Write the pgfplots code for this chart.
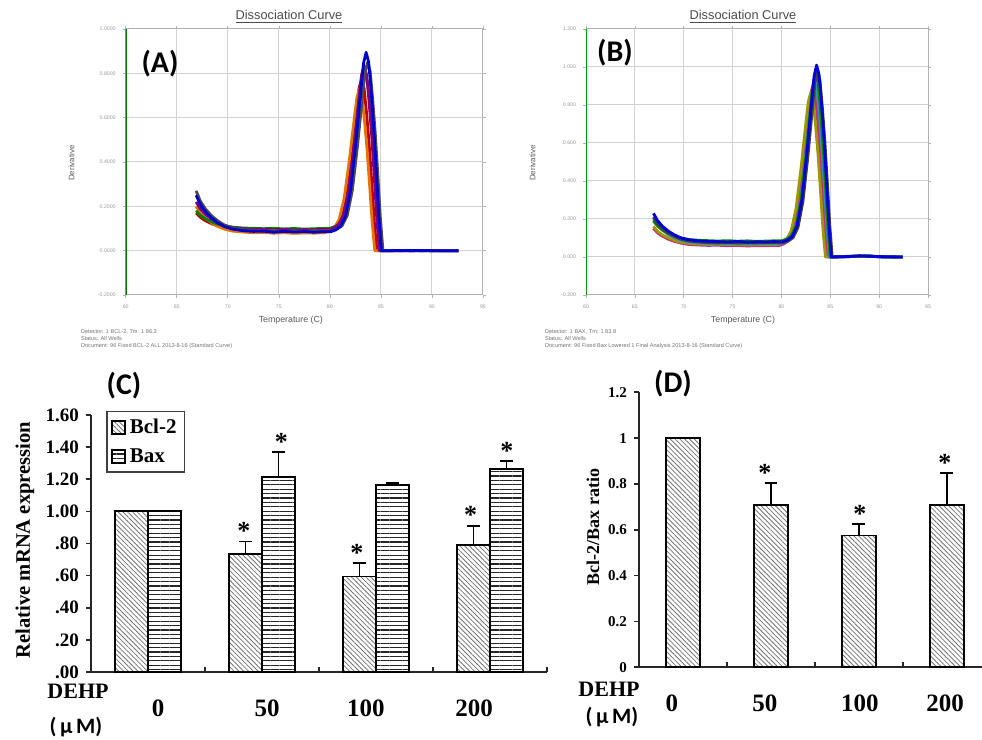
\documentclass[border=0pt]{standalone}
\usepackage{pgfplots}
\pgfplotsset{compat=1.18}
\usepackage{fontspec}
\setmainfont{Liberation Serif}
\newfontfamily\calfont{Carlito}
\newfontfamily\arial{Liberation Sans}
\usetikzlibrary{patterns.meta}
\pgfplotsset{
  dissoc/.style={scale only axis, anchor=south west, xmin=60, xmax=95,
    xtick={60,65,70,75,80,85,90,95}, grid=major,
    grid style={gray!35, line width=0.5pt},
    axis line style={gray!60, line width=0.5pt},
    tick style={gray!60, line width=0.3pt}, tick align=outside, major tick length=1.5pt,
    tick label style={font=\arial\fontsize{2.6}{3}\selectfont, text=gray!80},
    /pgf/number format/assume math mode=true,
    every axis plot/.append style={line width=1.4pt, line join=round, mark=none},
    clip=true},
  barax/.style={scale only axis, anchor=south west, axis lines*=left,
    axis line style={line width=0.9pt, black!85}, xmin=-0.5, ymin=0,
    tick style={black!85, line width=0.8pt}, tick align=outside, major tick length=2.5pt,
    xtick style={yshift=2.5pt},
    /pgf/number format/assume math mode=true,
    xticklabel style={font=\bfseries\fontsize{12.5}{13}\selectfont, anchor=center, yshift=-18pt},
    extra x tick style={major tick length=0pt},
    clip=false},
  sqlegend/.style={legend image code/.code={\draw[##1] (0pt,-3.3pt) rectangle (6.6pt,3.3pt);}},
  hatchD/.style={draw=black, line width=0.9pt, pattern={Lines[angle=-45,distance=1.7pt,line width=0.4pt]}, pattern color=black!55},
  hatchH/.style={draw=black, line width=0.9pt, pattern={Lines[angle=0,distance=2.2pt,line width=0.55pt]}, pattern color=black!85},
  ebars/.style={error bars/y dir=plus, error bars/y explicit,
    error bars/error bar style={black, line width=0.9pt},
    error bars/error mark options={rotate=90, black, mark size=3.2pt, line width=0.9pt}},
}
\tikzset{ast/.style={anchor=base, yshift=1pt, font=\bfseries\fontsize{13}{13}\selectfont}}
\begin{document}
\begin{tikzpicture}
\path[use as bounding box] (0,0) rectangle (491pt,370pt);

% ---------------- Panel A ----------------
\begin{axis}[dissoc, at={(62.85pt,222.5pt)}, width=178.65pt, height=133pt,
  ymin=-0.2, ymax=1.0, ytick={-0.2,0,0.2,0.4,0.6,0.8,1.0},
  yticklabels={-0.2000,0.0000,0.2000,0.4000,0.6000,0.8000,1.0000}]
\addplot[red!75!black] coordinates {(66.9,0.17)(67.3,0.151)(67.8,0.135)(68.4,0.122)(69.0,0.112)(69.7,0.103)(70.5,0.097)(71.5,0.094)(72.5,0.093)(73.5,0.094)(74.5,0.091)(75.5,0.093)(76.5,0.090)(77.5,0.092)(78.5,0.090)(79.2,0.093)(79.6,0.092)(80.1,0.099)(80.6,0.112)(81.1,0.153)(81.6,0.255)(82.1,0.432)(82.6,0.636)(82.85,0.731)(83.1,0.772)(83.35,0.733)(83.6,0.618)(83.85,0.479)(84.1,0.309)(84.35,0.131)(84.6,0)(86,0)(87,0)(88,0)(89,0.001)(90,0)(91,0)(92.6,0)};
\addplot[orange!90!black] coordinates {(66.9,0.20)(67.3,0.17)(67.8,0.146)(68.4,0.126)(69.0,0.11)(69.7,0.097)(70.5,0.088)(71.5,0.084)(72.5,0.081)(73.5,0.082)(74.5,0.079)(75.5,0.081)(76.5,0.078)(77.5,0.080)(78.5,0.079)(79.2,0.081)(79.4,0.080)(79.9,0.087)(80.4,0.100)(80.9,0.139)(81.4,0.236)(81.9,0.405)(82.4,0.60)(82.65,0.691)(82.9,0.73)(83.15,0.694)(83.4,0.584)(83.65,0.453)(83.9,0.292)(84.15,0.124)(84.4,0)(86,0)(87,0)(88,0.001)(89,0)(90,0)(91,0.001)(92.6,0)};
\addplot[green!50!black] coordinates {(66.9,0.18)(67.3,0.16)(67.8,0.144)(68.4,0.130)(69.0,0.12)(69.7,0.111)(70.5,0.106)(71.5,0.102)(72.5,0.101)(73.5,0.099)(74.5,0.101)(75.5,0.098)(76.5,0.100)(77.5,0.097)(78.5,0.099)(79.2,0.100)(79.95,0.100)(80.45,0.107)(80.95,0.121)(81.45,0.163)(81.95,0.268)(82.45,0.45)(82.95,0.66)(83.2,0.758)(83.45,0.80)(83.7,0.76)(83.95,0.64)(84.2,0.496)(84.45,0.32)(84.7,0.136)(84.95,0)(86,0)(87,0.001)(88,0)(89,0)(90,0)(91,0)(92.6,0)};
\addplot[violet] coordinates {(66.9,0.22)(67.3,0.189)(67.8,0.164)(68.4,0.143)(69.0,0.126)(69.7,0.113)(70.5,0.104)(71.5,0.099)(72.5,0.096)(73.5,0.097)(74.5,0.094)(75.5,0.096)(76.5,0.093)(77.5,0.095)(78.5,0.094)(79.2,0.096)(79.85,0.095)(80.35,0.102)(80.85,0.117)(81.35,0.162)(81.85,0.273)(82.35,0.465)(82.85,0.687)(83.1,0.791)(83.35,0.835)(83.6,0.793)(83.85,0.668)(84.1,0.518)(84.35,0.334)(84.6,0.142)(84.85,0)(86,0.001)(87,0)(88,0)(89,0)(90,0.001)(91,0)(92.6,0)};
\addplot[black!70] coordinates {(66.9,0.27)(67.3,0.225)(67.8,0.189)(68.4,0.158)(69.0,0.135)(69.7,0.115)(70.5,0.103)(71.5,0.095)(72.5,0.092)(73.5,0.088)(74.5,0.091)(75.5,0.087)(76.5,0.090)(77.5,0.088)(78.5,0.091)(79.2,0.089)(80.2,0.090)(80.7,0.098)(81.2,0.113)(81.7,0.158)(82.2,0.272)(82.7,0.47)(83.2,0.698)(83.45,0.804)(83.7,0.85)(83.95,0.808)(84.2,0.68)(84.45,0.527)(84.7,0.34)(84.95,0.145)(85.2,0)(86,0)(87,0)(88,0.001)(89,0)(90,0)(91,0)(92.6,0)};
\addplot[blue!80!black] coordinates {(66.9,0.25)(67.3,0.209)(67.8,0.176)(68.4,0.148)(69.0,0.126)(69.7,0.108)(70.5,0.097)(71.5,0.090)(72.5,0.087)(73.5,0.088)(74.5,0.083)(75.5,0.087)(76.5,0.084)(77.5,0.086)(78.5,0.083)(79.2,0.085)(80.05,0.085)(80.55,0.093)(81.05,0.109)(81.55,0.158)(82.05,0.279)(82.55,0.49)(83.05,0.733)(83.3,0.846)(83.55,0.895)(83.8,0.85)(84.05,0.716)(84.3,0.555)(84.55,0.358)(84.8,0.152)(85.05,0)(86,0)(87,0.001)(88,0)(89,0.001)(90,0)(91,0)(92.6,0)};
\draw[green!45!black, line width=1pt] (rel axis cs:0,0) -- (rel axis cs:0,1);
\end{axis}

% ---------------- Panel B ----------------
\begin{axis}[dissoc, at={(293pt,222.5pt)}, width=171pt, height=133pt,
  ymin=-0.2, ymax=1.2, ytick={-0.2,0,0.2,0.4,0.6,0.8,1.0,1.2},
  yticklabels={-0.200,0.000,0.200,0.400,0.600,0.800,1.000,1.200}]
\addplot[magenta!80!black] coordinates {(66.9,0.15)(67.3,0.128)(67.8,0.11)(68.4,0.094)(69.0,0.083)(69.7,0.073)(70.5,0.066)(71.5,0.063)(72.5,0.061)(73.5,0.062)(74.5,0.059)(75.5,0.061)(76.5,0.058)(77.5,0.060)(78.5,0.059)(79.2,0.061)(79.7,0.060)(80.2,0.068)(80.7,0.085)(81.2,0.136)(81.7,0.262)(82.2,0.48)(82.7,0.732)(82.95,0.85)(83.2,0.90)(83.45,0.855)(83.7,0.72)(83.95,0.558)(84.2,0.36)(84.45,0.153)(84.7,0)(86,0)(87,0.002)(88,0.004)(89,0.004)(90,0.001)(91,0)(92.4,0)};
\addplot[olive!85!yellow] coordinates {(66.9,0.16)(67.3,0.136)(67.8,0.117)(68.4,0.101)(69.0,0.089)(69.7,0.078)(70.5,0.072)(71.5,0.068)(72.5,0.066)(73.5,0.067)(74.5,0.064)(75.5,0.066)(76.5,0.063)(77.5,0.065)(78.5,0.064)(79.2,0.066)(79.5,0.065)(80.0,0.073)(80.5,0.089)(81.0,0.137)(81.5,0.257)(82.0,0.465)(82.5,0.705)(82.75,0.817)(83.0,0.865)(83.25,0.822)(83.5,0.692)(83.75,0.536)(84.0,0.346)(84.25,0.147)(84.5,0)(86,0.001)(87,0.003)(88,0.004)(89,0.005)(90,0.001)(91,0.001)(92.4,0)};
\addplot[cyan!70!black] coordinates {(66.9,0.20)(67.3,0.168)(67.8,0.142)(68.4,0.119)(69.0,0.103)(69.7,0.088)(70.5,0.079)(71.5,0.074)(72.5,0.071)(73.5,0.072)(74.5,0.069)(75.5,0.071)(76.5,0.068)(77.5,0.070)(78.5,0.069)(79.2,0.071)(79.9,0.070)(80.4,0.079)(80.9,0.096)(81.4,0.147)(81.9,0.274)(82.4,0.495)(82.9,0.75)(83.15,0.869)(83.4,0.92)(83.65,0.874)(83.9,0.736)(84.15,0.57)(84.4,0.368)(84.65,0.156)(84.9,0)(86,0.002)(87,0.002)(88,0.005)(89,0.006)(90,0.002)(91,0)(92.4,0)};
\addplot[green!55!black] coordinates {(66.9,0.19)(67.3,0.164)(67.8,0.143)(68.4,0.125)(69.0,0.111)(69.7,0.10)(70.5,0.092)(71.5,0.088)(72.5,0.086)(73.5,0.084)(74.5,0.086)(75.5,0.083)(76.5,0.085)(77.5,0.082)(78.5,0.084)(79.2,0.085)(80.0,0.085)(80.5,0.094)(81.0,0.111)(81.5,0.164)(82.0,0.296)(82.5,0.525)(83.0,0.789)(83.25,0.912)(83.5,0.965)(83.75,0.917)(84.0,0.772)(84.25,0.598)(84.5,0.386)(84.75,0.164)(85.0,0)(86,0.002)(87,0.004)(88,0.006)(89,0.003)(90,0.002)(91,0)(92.4,0)};
\addplot[black!75] coordinates {(66.9,0.21)(67.3,0.176)(67.8,0.149)(68.4,0.126)(69.0,0.109)(69.7,0.094)(70.5,0.084)(71.5,0.079)(72.5,0.076)(73.5,0.074)(74.5,0.076)(75.5,0.073)(76.5,0.075)(77.5,0.074)(78.5,0.076)(79.2,0.075)(80.2,0.075)(80.7,0.084)(81.2,0.102)(81.7,0.156)(82.2,0.291)(82.7,0.525)(83.2,0.795)(83.45,0.921)(83.7,0.975)(83.95,0.926)(84.2,0.78)(84.45,0.605)(84.7,0.39)(84.95,0.166)(85.2,0)(86,0.001)(87,0.002)(88,0.005)(89,0.005)(90,0.001)(91,0)(92.4,0)};
\addplot[blue!85!black] coordinates {(66.9,0.23)(67.3,0.193)(67.8,0.163)(68.4,0.137)(69.0,0.118)(69.7,0.101)(70.5,0.091)(71.5,0.085)(72.5,0.082)(73.5,0.081)(74.5,0.079)(75.5,0.082)(76.5,0.078)(77.5,0.080)(78.5,0.079)(79.2,0.081)(80.1,0.080)(80.6,0.089)(81.1,0.108)(81.6,0.164)(82.1,0.303)(82.6,0.545)(83.1,0.824)(83.35,0.954)(83.6,1.01)(83.85,0.96)(84.1,0.808)(84.35,0.626)(84.6,0.404)(84.85,0.172)(85.1,0)(86,0.001)(87,0.003)(88,0.006)(89,0.004)(90,0.002)(91,0.001)(92.4,0)};
\draw[green!60!black, line width=1pt] (rel axis cs:0,0) -- (rel axis cs:0,1);
\end{axis}

% ---------------- Panel C ----------------
\begin{axis}[barax, at={(45.5pt,34pt)}, width=228pt, height=128.5pt,
  xmax=3.5, ymax=1.6, ybar=0pt, bar width=16.5pt,
  xtick={0.5,1.5,2.5,3.5}, xticklabels={},
  extra x ticks={0.088,1.044,1.912,2.86}, extra x tick labels={0,50,100,200},
  ytick={0,0.2,0.4,0.6,0.8,1,1.2,1.4,1.6},
  yticklabels={.00,.20,.40,.60,.80,1.00,1.20,1.40,1.60},
  yticklabel style={font=\bfseries\fontsize{9.5}{10}\selectfont},
  legend cell align=left,
  legend style={at={(0.033,1.016)}, anchor=north west, draw=black!75, line width=0.8pt,
    font=\bfseries\fontsize{10.5}{11}\selectfont, inner xsep=2pt, inner ysep=1.5pt, row sep=2pt}]
\addplot[hatchD, ebars, sqlegend] coordinates {(0,1.00) +- (0,0) (1,0.736) +- (0,0.076) (2,0.595) +- (0,0.083) (3,0.79) +- (0,0.119)};
\addlegendentry{Bcl-2}
\addplot[hatchH, ebars, sqlegend] coordinates {(0,1.00) +- (0,0) (1,1.212) +- (0,0.156) (2,1.165) +- (0,0.010) (3,1.262) +- (0,0.050)};
\addlegendentry{Bax}
\node[ast] at (axis cs:0.842,0.812) {*};
\node[ast] at (axis cs:1.17,1.368) {*};
\node[ast] at (axis cs:1.833,0.678) {*};
\node[ast] at (axis cs:2.83,0.909) {*};
\node[ast] at (axis cs:3.149,1.312) {*};
\end{axis}

% ---------------- Panel D ----------------
\begin{axis}[barax, at={(319.5pt,36.35pt)}, width=171.5pt, height=137.5pt,
  xmax=3.4, ymax=1.2, ybar=0pt, bar width=17pt,
  xtick={0.5,1.5,2.5}, xticklabels={},
  extra x ticks={-0.125,0.93,2.01,2.98}, extra x tick labels={0,50,100,200},
  ytick={0,0.2,0.4,0.6,0.8,1,1.2},
  yticklabel style={font=\bfseries\fontsize{7.5}{8}\selectfont}]
\addplot[hatchD, ebars] coordinates {(0,1.00) +- (0,0) (1,0.708) +- (0,0.095) (2,0.575) +- (0,0.049) (3,0.708) +- (0,0.139)};
\node[ast] at (axis cs:0.932,0.803) {*};
\node[ast] at (axis cs:2.011,0.624) {*};
\node[ast] at (axis cs:2.977,0.847) {*};
\end{axis}

% ---------------- texts ----------------
\node[font=\calfont\bfseries\fontsize{15}{15}\selectfont] at (80pt,338pt) {(A)};
\node[font=\calfont\bfseries\fontsize{15}{15}\selectfont] at (307.5pt,343.5pt) {(B)};
\node[font=\calfont\bfseries\fontsize{15}{15}\selectfont] at (62pt,177pt) {(C)};
\node[font=\calfont\bfseries\fontsize{15}{15}\selectfont] at (336.5pt,178pt) {(D)};

\node[font=\arial\fontsize{6.4}{7}\selectfont, text=black!70] at (144.5pt,361.5pt) {\underline{Dissociation Curve}};
\node[font=\arial\fontsize{6.4}{7}\selectfont, text=black!70] at (371.5pt,361.5pt) {\underline{Dissociation Curve}};
\node[font=\arial\fontsize{4}{5}\selectfont, text=black!65, rotate=90] at (35.8pt,288.5pt) {Derivative};
\node[font=\arial\fontsize{4}{5}\selectfont, text=black!65, rotate=90] at (266.3pt,288.5pt) {Derivative};
\node[font=\arial\fontsize{4.4}{5}\selectfont, text=black!65] at (145.4pt,210pt) {Temperature (C)};
\node[font=\arial\fontsize{4.4}{5}\selectfont, text=black!65] at (371.5pt,210pt) {Temperature (C)};
\node[font=\arial\fontsize{2.8}{3.5}\selectfont, text=black!55, anchor=west, align=left] at (37pt,200.5pt)
  {Detector: 1 BCL-2, Tm: 1 86.3\\Status: All Wells\\Document: 96 Fixed BCL-2 ALL 2013-8-16 (Standard Curve)};
\node[font=\arial\fontsize{2.8}{3.5}\selectfont, text=black!55, anchor=west, align=left] at (269pt,200.5pt)
  {Detector: 1 BAX, Tm: 1 83.8\\Status: All Wells\\Document: 96 Fixed Bax Lowered 1 Final Analysis 2013-8-16 (Standard Curve)};

\node[rotate=90, font=\bfseries\fontsize{10.3}{12}\selectfont] at (12.5pt,100pt) {Relative mRNA expression};
\node[rotate=90, font=\bfseries\fontsize{9}{10}\selectfont] at (296.5pt,106.5pt) {Bcl-2/Bax ratio};
\node[font=\bfseries\fontsize{11}{12}\selectfont] at (39pt,24.5pt) {DEHP};
\node[font=\calfont\bfseries\fontsize{11}{12}\selectfont] at (38pt,6.5pt) {(\,μ\,M)};
\node[font=\bfseries\fontsize{11}{12}\selectfont] at (304.5pt,25.5pt) {DEHP};
\node[font=\calfont\bfseries\fontsize{11}{12}\selectfont] at (306pt,11.5pt) {(\,μ\,M)};
\end{tikzpicture}
\end{document}
